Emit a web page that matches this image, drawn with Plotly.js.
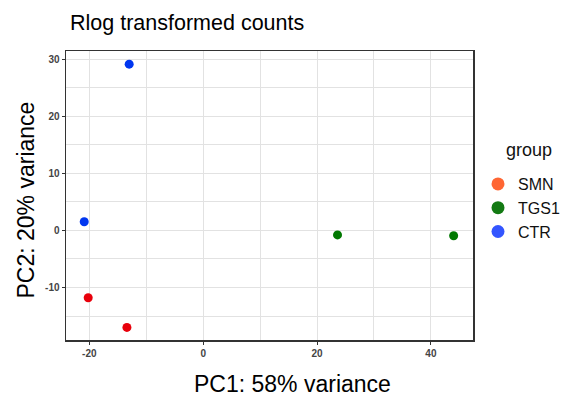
<!DOCTYPE html>
<html>
<head>
<meta charset="utf-8">
<script src="https://cdn.plot.ly/plotly-3.0.1.min.js"></script>
<style>html,body{margin:0;padding:0;background:#fff;}#chart{width:570px;height:403px;}</style>
</head>
<body>
<div id="chart"></div>
<script>
const groups = ["SMN", "TGS1", "CTR"];
const smnPC1 = [-20.2, -13.4];
const smnPC2 = [-11.8, -17.0];
const tgs1PC1 = [23.6, 44.0];
const tgs1PC2 = [-0.8, -0.95];
const ctrPC1 = [-13.0, -20.9];
const ctrPC2 = [29.1, 1.5];
const xTicks = [-20, 0, 20, 40];
const yTicks = [-10, 0, 10, 20, 30];
const xTitle = "PC1: 58% variance";
const yTitle = "PC2: 20% variance";
const legendTitle = "group";

const pointColors = ["#e8000b", "#007800", "#0036f0"];
const legendColors = ["#ff6633", "#137a13", "#3355ff"];
const xs = [smnPC1, tgs1PC1, ctrPC1];
const ys = [smnPC2, tgs1PC2, ctrPC2];

const data = [];
groups.forEach((g, i) => {
  data.push({
    type: "scatter", mode: "markers", x: xs[i], y: ys[i], name: g,
    showlegend: false, legendgroup: g,
    marker: {color: pointColors[i], size: 9}
  });
});
groups.forEach((g, i) => {
  data.push({
    type: "scatter", mode: "markers", x: [null], y: [null], name: g,
    showlegend: true, legendgroup: g,
    marker: {color: legendColors[i], size: 13}
  });
});

const FONT = "Liberation Sans, Arial, sans-serif";
const GRID = "#e2e2e2";
const axisCommon = {
  showline: true, mirror: true, linecolor: "#333", linewidth: 1.5,
  ticks: "outside", ticklen: 3, tickcolor: "#333", tickwidth: 1,
  showgrid: true, gridcolor: GRID, gridwidth: 1, zeroline: false,
  tickfont: {family: FONT, size: 10, color: "#444", weight: "bold"}
};
const titleFont = {family: FONT, size: 23, color: "#000"};

const layout = {
  width: 570, height: 403,
  margin: {l: 66, r: 97, t: 51, b: 63, autoexpand: false},
  paper_bgcolor: "#fff", plot_bgcolor: "#fff",
  font: {family: FONT, color: "#000"},
  title: {text: "Rlog transformed counts", x: 70/570, xanchor: "left", y: 1 - 22/403, yanchor: "middle",
          font: {family: FONT, size: 21.5, color: "#000"}},
  xaxis: Object.assign({}, axisCommon, {
    range: [-24.1, 47.4], tickvals: xTicks, ticktext: xTicks.map(String),
    minor: {tickvals: [-10, 10, 30], showgrid: true, gridcolor: GRID, gridwidth: 1, ticks: ""}
  }),
  yaxis: Object.assign({}, axisCommon, {
    range: [-19.2, 31.4], tickvals: yTicks, ticktext: yTicks.map(String),
    minor: {tickvals: [-15, -5, 5, 15, 25], showgrid: true, gridcolor: GRID, gridwidth: 1, ticks: ""}
  }),
  legend: {
    xref: "container", yref: "container",
    x: 478/570, xanchor: "left", y: 1 - 167/403, yanchor: "top",
    font: {family: FONT, size: 16, color: "#111"},
    itemsizing: "trace", tracegroupgap: 0, bgcolor: "rgba(0,0,0,0)"
  },
  annotations: [
    {xref: "paper", yref: "paper", x: (529 - 66) / 407, y: (340 - 150) / 289,
     xanchor: "center", yanchor: "middle", showarrow: false,
     text: legendTitle, font: {family: FONT, size: 18, color: "#111"}},
    {xref: "paper", yref: "paper", x: (292 - 66) / 407, y: (340 - 384) / 289,
     xanchor: "center", yanchor: "middle", showarrow: false,
     text: xTitle, font: titleFont},
    {xref: "paper", yref: "paper", x: (25.5 - 66) / 407, y: (340 - 200) / 289,
     xanchor: "center", yanchor: "middle", showarrow: false, textangle: -90,
     text: yTitle, font: titleFont}
  ],
  showlegend: true
};

Plotly.newPlot("chart", data, layout, {displayModeBar: false, staticPlot: true});
</script>
</body>
</html>
